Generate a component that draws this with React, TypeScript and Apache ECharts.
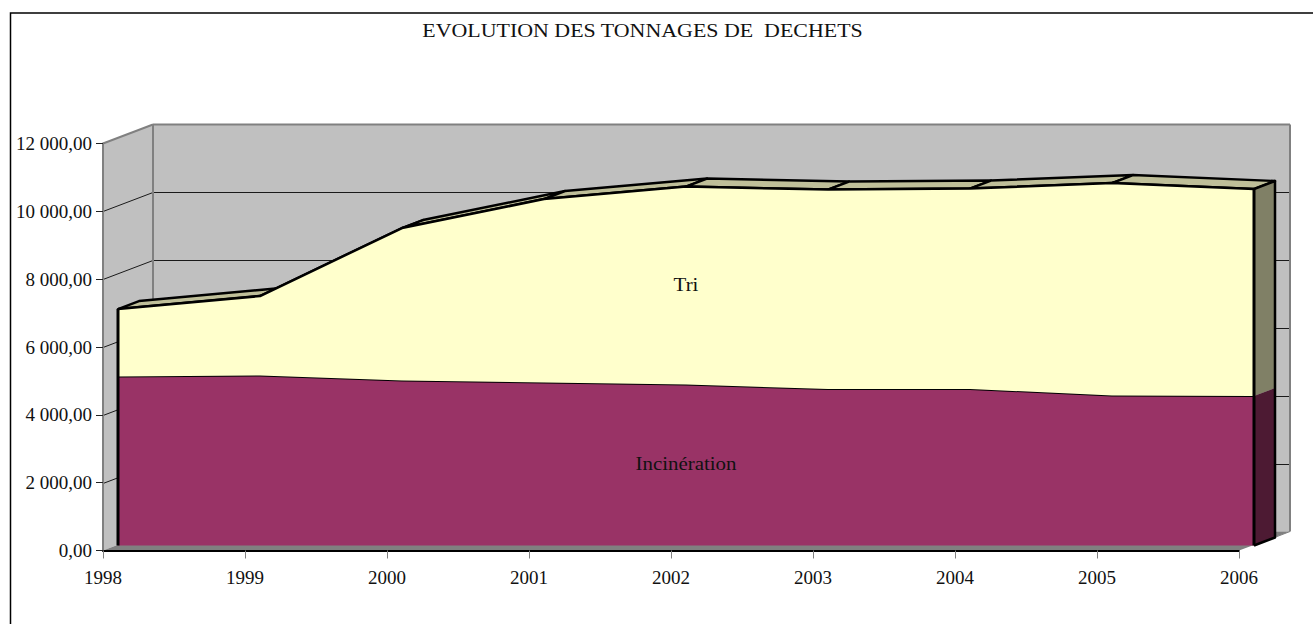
import React, { useEffect, useRef } from "react";
import * as echarts from "echarts";

const years = ["1998", "1999", "2000", "2001", "2002", "2003", "2004", "2005", "2006"];
const incineration = [4982, 5012, 4864, 4805, 4746, 4614, 4614, 4422, 4407];
const tri = [1990, 2344, 4496, 5410, 5838, 5881, 5911, 6265, 6103];
const gridTicks = [2000, 4000, 6000, 8000, 10000];

const FONT = "Liberation Serif";
const WIDTH = 1313;
const HEIGHT = 624;
const AXIS_MAX = 12000;
const WALL_DX = 50;
const WALL_DY = -19;
const BAND_DX = 21;
const BAND_DY = -8;

const frLabel = (v: number) =>
  String(v).replace(/\B(?=(\d{3})+$)/g, " ") + ",00";

export default function App() {
  const ref = useRef<HTMLDivElement>(null);

  useEffect(() => {
    document.body.style.margin = "0";
    const chart = echarts.init(ref.current!, null, { renderer: "svg" });

    const totals = tri.map((v, i) => v + incineration[i]);
    const wallStyle = { fill: "#C0C0C0" };
    const edge = { stroke: "#808080", lineWidth: 2, fill: "none" };

    const renderWalls = (_: any, api: any) => {
      const lastIdx = years.length - 1;
      const [x0, y0] = api.coord([0, 0]);
      const [x1] = api.coord([lastIdx, 0]);
      const [, yTop] = api.coord([0, AXIS_MAX]);
      const poly = (points: number[][], style: any) => ({ type: "polygon", shape: { points }, style });
      const seg = (a: number[], b: number[], style: any) => ({
        type: "line",
        shape: { x1: a[0], y1: a[1], x2: b[0], y2: b[1] },
        style,
      });
      const bx0 = x0 + WALL_DX;
      const bx1 = x1 + WALL_DX + 1;
      const by0 = y0 + WALL_DY;
      const byT = yTop + WALL_DY;
      const children: any[] = [
        poly([[bx0, byT], [bx1, byT], [bx1, by0], [bx0, by0]], wallStyle),
        poly([[x0, yTop], [bx0, byT], [bx0, by0], [x0, y0]], wallStyle),
        poly([[x0, y0], [x1, y0], [bx1, by0], [bx0, by0]], { fill: "#808080" }),
      ];
      gridTicks.forEach((t) => {
        const y = Math.round(api.coord([0, t])[1]);
        const gs = { stroke: "#1a1a1a", lineWidth: 1 };
        children.push(seg([x0, y + 0.5], [bx0, y + WALL_DY + 0.5], gs));
        children.push(seg([bx0, y + WALL_DY + 0.5], [bx1, y + WALL_DY + 0.5], gs));
      });
      children.push(seg([x0, yTop], [bx0, byT], edge));
      children.push(seg([bx0, byT], [bx1, byT], edge));
      children.push(seg([bx0, byT], [bx0, by0], edge));
      children.push(seg([bx1, byT], [bx1, by0], edge));
      children.push(seg([x0, yTop], [x0, y0], edge));
      children.push(seg([x1 + 15, y0 - 5], [bx1, by0], { stroke: "#808080", lineWidth: 1 }));
      return { type: "group", children };
    };

    const renderTop = (_: any, api: any) => {
      const i = api.value(0);
      const p = api.coord([i, api.value(1)]);
      const back = (q: number[]) => [q[0] + BAND_DX, q[1] + BAND_DY];
      const black = { stroke: "#000", lineWidth: 2.5, fill: "none", lineJoin: "round" };
      const children: any[] = [];
      if (i < years.length - 1) {
        const n = api.coord([i + 1, totals[i + 1]]);
        children.push({
          type: "polygon",
          shape: { points: [p, n, back(n), back(p)] },
          style: { fill: "#BFBF99", stroke: "#000", lineWidth: 2.4, lineJoin: "round" },
        });
      } else {
        const m = api.coord([i, api.value(2)]);
        const b = api.coord([i, 0]);
        children.push(
          { type: "polygon", shape: { points: [p, back(p), back(m), m] }, style: { fill: "#808066" } },
          { type: "polygon", shape: { points: [m, back(m), back(b), b] }, style: { fill: "#4D1A33" } },
          { type: "polyline", shape: { points: [p, back(p), back(b), b] }, style: black },
        );
      }
      return { type: "group", children };
    };

    const renderEdges = (_: any, api: any) => {
      const i = api.value(0);
      const p = api.coord([i, api.value(1)]);
      const b = api.coord([i, 0]);
      return {
        type: "line",
        shape: { x1: p[0], y1: p[1], x2: b[0], y2: b[1] },
        style: { stroke: "#000", lineWidth: 3 },
      };
    };

    const faceAxis = {
      type: "category" as const,
      gridIndex: 1,
      data: years,
      boundaryGap: false,
      show: false,
    };

    chart.setOption({
      animation: false,
      backgroundColor: "#fff",
      textStyle: { fontFamily: FONT },
      grid: [
        { left: 103, top: 143.5, width: 1136, height: 407, containLabel: false },
        { left: 118, top: 138.5, width: 1136, height: 407, containLabel: false },
      ],
      xAxis: [
        {
          type: "category",
          gridIndex: 0,
          data: years,
          boundaryGap: false,
          z: 6,
          axisLine: { lineStyle: { color: "#000", width: 2 } },
          axisTick: { alignWithLabel: true, length: 8, lineStyle: { color: "#808080", width: 1 } },
          axisLabel: { margin: 17, fontFamily: FONT, fontSize: 19, color: "#111", interval: 0 },
          splitLine: { show: false },
        },
        faceAxis,
      ],
      yAxis: [
        {
          type: "value",
          gridIndex: 0,
          min: 0,
          max: AXIS_MAX,
          interval: 2000,
          z: 6,
          axisLine: { show: true, lineStyle: { color: "#808080", width: 2 } },
          axisTick: { show: true, length: 7, lineStyle: { color: "#222", width: 1 } },
          axisLabel: { margin: 11, fontFamily: FONT, fontSize: 19, color: "#111", formatter: frLabel },
          splitLine: { show: false },
        },
        { type: "value", gridIndex: 1, min: 0, max: AXIS_MAX, interval: 2000, show: false },
      ],
      series: [
        {
          type: "custom",
          name: "walls",
          xAxisIndex: 0,
          yAxisIndex: 0,
          z: 1,
          silent: true,
          clip: false,
          data: [[0, 0]],
          renderItem: renderWalls,
        },
        {
          type: "custom",
          name: "relief",
          xAxisIndex: 1,
          yAxisIndex: 1,
          z: 2,
          silent: true,
          clip: false,
          data: totals.map((t, i) => [i, t, incineration[i]]),
          encode: { x: 0, y: 1 },
          renderItem: renderTop,
        },
        {
          type: "line",
          name: "Incinération",
          xAxisIndex: 1,
          yAxisIndex: 1,
          stack: "dechets",
          z: 3,
          clip: false,
          showSymbol: false,
          data: incineration,
          lineStyle: { color: "#000", width: 2 },
          areaStyle: { color: "#993366", opacity: 1 },
          itemStyle: { color: "#993366" },
        },
        {
          type: "line",
          name: "Tri",
          xAxisIndex: 1,
          yAxisIndex: 1,
          stack: "dechets",
          z: 4,
          clip: false,
          showSymbol: false,
          data: tri,
          lineStyle: { color: "#000", width: 2.5 },
          areaStyle: { color: "#FFFFCC", opacity: 1 },
          itemStyle: { color: "#FFFFCC" },
        },
        {
          type: "custom",
          name: "edges",
          xAxisIndex: 1,
          yAxisIndex: 1,
          z: 5,
          silent: true,
          clip: false,
          data: [
            [0, totals[0]],
            [years.length - 1, totals[years.length - 1]],
          ],
          encode: { x: 0, y: 1 },
          renderItem: renderEdges,
        },
      ],
      graphic: [
        {
          type: "polyline",
          silent: true,
          shape: { points: [[10.5, HEIGHT], [10.5, 13], [WIDTH, 13]] },
          style: { stroke: "#000", lineWidth: 1.5, fill: "none" },
        },
        {
          type: "text",
          silent: true,
          z: 10,
          x: 642.5,
          y: 31,
          scaleX: 1.154,
          style: {
            text: "EVOLUTION DES TONNAGES DE  DECHETS",
            font: `19px "${FONT}"`,
            fill: "#111",
            align: "center",
            verticalAlign: "middle",
          },
        },
        {
          type: "text",
          silent: true,
          z: 10,
          x: 686,
          y: 284,
          scaleX: 1.1,
          style: { text: "Tri", font: `19px "${FONT}"`, fill: "#111", align: "center", verticalAlign: "middle" },
        },
        {
          type: "text",
          silent: true,
          z: 10,
          x: 686,
          y: 463,
          scaleX: 1.1,
          style: { text: "Incinération", font: `19px "${FONT}"`, fill: "#111", align: "center", verticalAlign: "middle" },
        },
      ],
    });

    return () => chart.dispose();
  }, []);

  return (
    <div
      ref={ref}
      style={{ position: "absolute", left: 0, top: 0, width: WIDTH, height: HEIGHT, background: "#fff" }}
    />
  );
}
